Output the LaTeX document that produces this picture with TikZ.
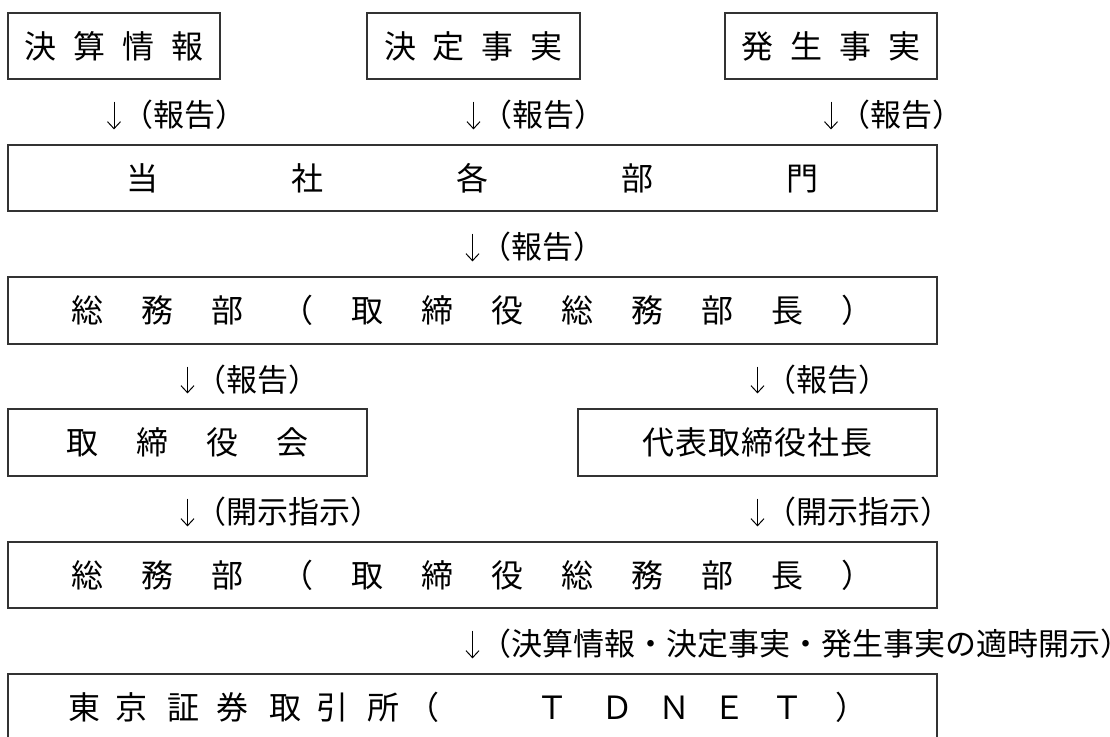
\documentclass[tikz,border=0pt]{standalone}
\usepackage{fontspec}
\setmainfont{Noto Sans CJK JP}
\usetikzlibrary{arrows.meta,calc}
\ExplSyntaxOn
\NewDocumentCommand\cells{mm}{\clist_map_inline:nn{#2}{\makebox[#1]{##1}}}
\cs_new:Npn \my_pc:w #1/#2\q_stop {\rlap{\hspace*{#1pt}\makebox[0pt]{#2}}}
\NewDocumentCommand\posch{mm}{\makebox[#1][l]{\clist_map_inline:nn{#2}{\my_pc:w ##1\q_stop}}}
\ExplSyntaxOff
\newcommand\flowarrow[4]{%
  \coordinate (#3s) at ([yshift=-22pt]#1);
  \coordinate (#3x) at (#1 |- #2);
  \coordinate (#3e) at ([yshift=15pt]#3x);
  \draw[arr] (#3s) -- (#3e);
  \node[lab] (#3l) at ($(#3s)!0.5!(#3e)+(8pt,1pt)$) {#4};
}
\tikzset{
  box/.style={draw=black!80, line width=1.2pt, minimum height=66pt, inner sep=0pt,
    text height=25pt, text depth=1pt, font=\fontsize{32}{38}\selectfont},
  lab/.style={inner sep=0pt, anchor=west, font=\fontsize{31}{36}\selectfont,
    text height=25pt, text depth=1pt},
  arr/.style={line width=1pt, -{Straight Barb[length=7pt,width=13pt]}},
}
\begin{document}
\begin{tikzpicture}[x=1pt,y=-1pt]
\clip (0,0) rectangle (1110,736);
\fill[white] (0,0) rectangle (1110,736);
% row 1
\node[box, minimum width=212pt] (b1a) at (114,46) {\cells{49pt}{決,算,情,報}};
\node[box, minimum width=213pt] (b1b) at (473.5,46) {\cells{49pt}{決,定,事,実}};
\node[box, minimum width=212pt] (b1c) at (831,46) {\cells{49pt}{発,生,事,実}};
% row 2
\node[box, minimum width=929pt] (b2) at (472.5,178) {\cells{165pt}{当,社,各,部,門}};
% row 3
\node[box, minimum width=929pt, minimum height=67pt] (b3) at (472.5,310.5)
  {\cells{70pt}{総,務,部,（,取,締,役,総,務,部,長,）}};
% row 4
\node[box, minimum width=359pt, minimum height=67pt] (b4a) at (187.5,442.5) {\cells{70pt}{取,締,役,会}};
\node[box, minimum width=359pt, minimum height=67pt] (b4b) at (757.5,442.5) {\cells{33pt}{代,表,取,締,役,社,長}};
% row 5
\node[box, minimum width=929pt] (b5) at (472.5,575)
  {\cells{70pt}{総,務,部,（,取,締,役,総,務,部,長,）}};
% row 6
\node[box, minimum width=929pt] (b6) at (472.5,707)
  {\posch{929pt}{76/東,124/京,176/証,225/券,277.5/取,325/引,375.5/所,415.5/（,544/Ｔ,610/Ｄ,667/Ｎ,722/Ｅ,779.5/Ｔ,843.5/）}};
% connectors
\flowarrow{b1a.south}{b2.north}{f1}{（報告）}
\flowarrow{b1b.south}{b2.north}{f2}{（報告）}
\flowarrow{b1c.south}{b2.north}{f3}{（報告）}
\flowarrow{b2.south}{b3.north}{f4}{（報告）}
\coordinate (t4a) at (b4a.north |- b3.south);
\coordinate (t4b) at (b4b.north |- b3.south);
\flowarrow{t4a}{b4a.north}{f5}{（報告）}
\flowarrow{t4b}{b4b.north}{f6}{（報告）}
\flowarrow{b4a.south}{b5.north}{f7}{（開示指示）}
\flowarrow{b4b.south}{b5.north}{f8}{（開示指示）}
\flowarrow{b5.south}{b6.north}{f9}{（決算情報・決定事実・発生事実の適時開示\makebox[0.5em][l]{）}}
\end{tikzpicture}
\end{document}
